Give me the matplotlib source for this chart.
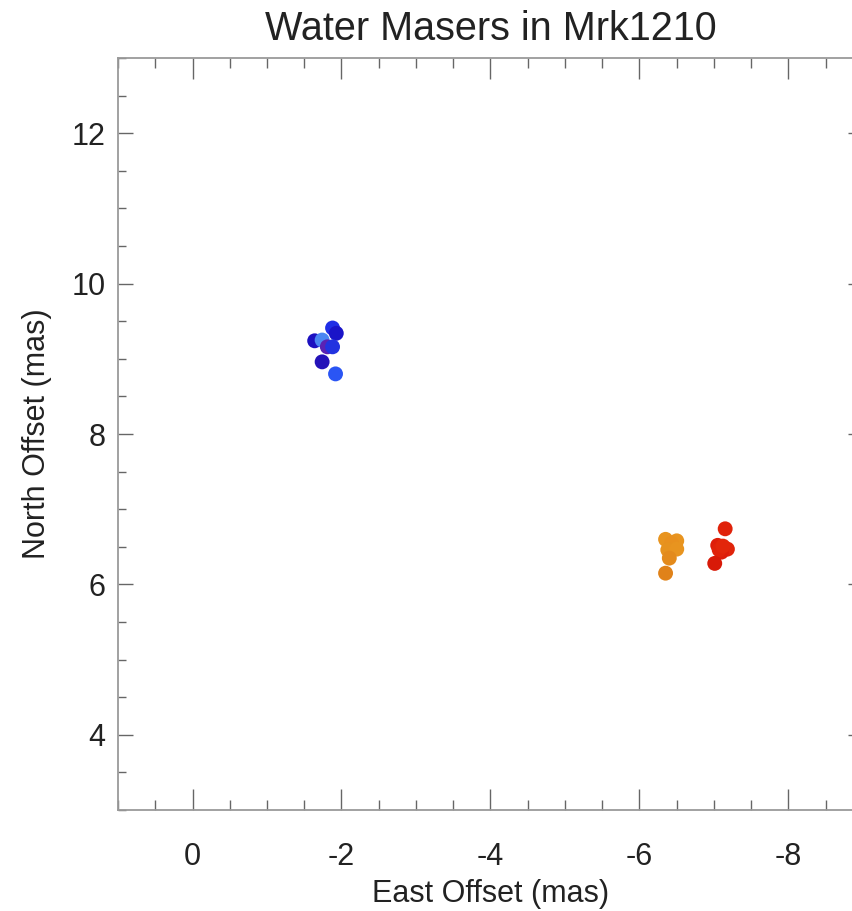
import numpy as np
import matplotlib
matplotlib.use("Agg")
import matplotlib.pyplot as plt
from matplotlib.ticker import MultipleLocator

plt.rcParams['font.family'] = ['Liberation Sans', 'DejaVu Sans']

# blueshifted masers
blue_x = [-1.88, -1.93, -1.64, -1.74, -1.81, -1.88, -1.74, -1.92]
blue_y = [9.41, 9.34, 9.24, 9.25, 9.16, 9.16, 8.96, 8.80]
blue_c = ["#1f2ee6", "#1a14c8", "#1c10c0", "#4a86f2", "#5a22b4", "#2233e0", "#2412b8", "#2a55f4"]

# redshifted masers
orange_x = [-6.35, -6.50, -6.43, -6.38, -6.50, -6.40, -6.35]
orange_y = [6.60, 6.58, 6.55, 6.46, 6.47, 6.35, 6.15]
orange_c = ["#e8941f", "#e8941f", "#e8901e", "#e6921e", "#e8941f", "#e38a1c", "#e08219"]

red_x = [-7.15, -7.05, -7.18, -7.10, -7.07, -7.12, -7.01]
red_y = [6.74, 6.52, 6.47, 6.43, 6.46, 6.51, 6.28]
red_c = ["#e0220a", "#de1e0a", "#e0240b", "#dd1c09", "#e0220a", "#e2260b", "#d81a08"]

fig = plt.figure(figsize=(8.52, 9.11), dpi=100)
ax = fig.add_axes([0.1385, 0.1108, 0.8744, 0.8255])

ax.scatter(blue_x, blue_y, c=blue_c, s=115, linewidths=0, zorder=3)
ax.scatter(orange_x, orange_y, c=orange_c, s=115, linewidths=0, zorder=3)
ax.scatter(red_x, red_y, c=red_c, s=115, linewidths=0, zorder=3)

ax.set_xlim(1, -9)
ax.set_ylim(3, 13)
ax.xaxis.set_minor_locator(MultipleLocator(0.5))
ax.yaxis.set_minor_locator(MultipleLocator(0.5))
ax.set_xticks([0, -2, -4, -6, -8])
ax.set_xticklabels(["0", "-2", "-4", "-6", "-8"])
ax.set_yticks([4, 6, 8, 10, 12])

for s in ax.spines.values():
    s.set_color("#9a9a9a")
    s.set_linewidth(1.3)

ax.tick_params(axis='x', which='major', direction='in', top=True, bottom=True,
               length=15, width=1, color="#666666", labelsize=22, pad=23,
               labelcolor="#222222")
ax.tick_params(axis='x', which='minor', direction='in', top=True, bottom=True,
               length=7.5, width=1, color="#666666")
ax.tick_params(axis='y', which='major', direction='in', left=True, right=True,
               length=11, width=1, color="#666666", labelsize=22, pad=9,
               labelcolor="#222222")
ax.tick_params(axis='y', which='minor', direction='in', left=True, right=True,
               length=6, width=1, color="#666666")

ax.set_xlabel("East Offset (mas)", fontsize=22, color="#222222", labelpad=5)
ax.set_ylabel("North Offset (mas)", fontsize=22, color="#222222", labelpad=14)
ax.set_title("Water Masers in Mrk1210", fontsize=28.5, color="#222222", pad=13)

fig.savefig("out.png", dpi=100, facecolor="white")
